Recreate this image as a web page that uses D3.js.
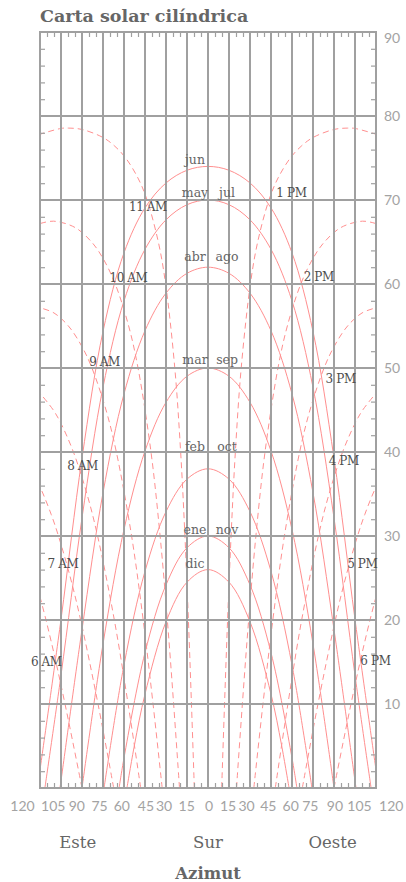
<!DOCTYPE html>
<html>
<head>
<meta charset="utf-8">
<script src="https://cdn.jsdelivr.net/npm/d3@7"></script>
<style>
    body { margin: 0; background: #fff; }
    svg { display: block; }
</style>
</head>
<body>
<svg id="canvas" width="406" height="882"></svg>
<script>
const width = 406
const height = 882

// azimut (grados desde el sur, + oeste) y altura (grados)
const pathJun = [[-120, 2.15], [-105, 20.07], [-90, 39.26], [-75, 54.35], [-60, 63.71], [-45, 69.06], [-30, 72.03], [-15, 73.54], [0, 74], [15, 73.54], [30, 72.03], [45, 69.06], [60, 63.71], [75, 54.35], [90, 39.26], [105, 20.07], [120, 2.15]]
const pathMayJul = [[-116.5, 0], [-105, 13.42], [-90, 32.15], [-75, 47.7], [-60, 57.99], [-45, 64.13], [-30, 67.64], [-15, 69.44], [0, 70], [15, 69.44], [30, 67.64], [45, 64.13], [60, 57.99], [75, 47.7], [90, 32.15], [105, 13.42], [116.5, 0]]
const pathAbrAgo = [[-105.75, 0], [-105, 0.86], [-90, 18.87], [-75, 35.15], [-60, 46.92], [-45, 54.44], [-30, 58.91], [-15, 61.27], [0, 62], [15, 61.27], [30, 58.91], [45, 54.44], [60, 46.92], [75, 35.15], [90, 18.87], [105, 0.86], [105.75, 0]]
const pathMarSep = [[-90, 0], [-75, 17.14], [-60, 30.78], [-45, 40.12], [-30, 45.91], [-15, 49.02], [0, 50], [15, 49.02], [30, 45.91], [45, 40.12], [60, 30.78], [75, 17.14], [90, 0]]
const pathFebOct = [[-74.25, 0], [-60, 14.65], [-45, 25.8], [-30, 32.9], [-15, 36.77], [0, 38], [15, 36.77], [30, 32.9], [45, 25.8], [60, 14.65], [74.25, 0]]
const pathEneNov = [[-63.5, 0], [-60, 3.58], [-45, 16.11], [-30, 24.18], [-15, 28.6], [0, 30], [15, 28.6], [30, 24.18], [45, 16.11], [60, 3.58], [63.5, 0]]
const pathDic = [[-57.9, 0], [-52.5, 5.14], [-45, 11.18], [-30, 19.79], [-15, 24.5], [0, 26], [15, 24.5], [30, 19.79], [45, 11.18], [52.5, 5.14], [57.9, 0]]

const hour6am = [[-90, 0], [-95.99, 5], [-102.13, 10], [-108.62, 15], [-115.71, 20], [-120, 22.76]]
const hour7am = [[-67.37, 0], [-78.55, 10], [-90.97, 20], [-98.23, 25], [-106.8, 30], [-112, 32.57], [-117.74, 35], [-120, 35.84]]
const hour8am = [[-48.07, 0], [-57.07, 10], [-66.9, 20], [-78.86, 30], [-86.45, 35], [-96.14, 40], [-105, 43.39], [-110.52, 45], [-120, 47]]
const hour9am = [[-32.73, 0], [-39.25, 10], [-46.3, 20], [-54.57, 30], [-65.47, 40], [-72.85, 45], [-82.9, 50], [-90, 52.54], [-99.7, 55], [-110, 56.55], [-120, 57.17]]
const hour10am = [[-20.36, 0], [-24.55, 10], [-29.04, 20], [-34.21, 30], [-40.72, 40], [-49.98, 50], [-56.67, 55], [-66.27, 60], [-75, 63.05], [-83.14, 65], [-95, 66.73], [-110.36, 67.48], [-120, 67.19]]
const hour11am = [[-9.77, 0], [-11.81, 10], [-13.99, 20], [-16.48, 30], [-19.54, 40], [-23.72, 50], [-30.28, 60], [-35.48, 65], [-43.53, 70], [-49.68, 72.5], [-58.79, 75], [-67, 76.47], [-75, 77.44], [-90, 78.4], [-99.77, 78.56], [-105, 78.52], [-120, 77.83]]
const hour1pm = [[9.77, 0], [11.81, 10], [13.99, 20], [16.48, 30], [19.54, 40], [23.72, 50], [30.28, 60], [35.48, 65], [43.53, 70], [49.68, 72.5], [58.79, 75], [67, 76.47], [75, 77.44], [90, 78.4], [99.77, 78.56], [105, 78.52], [120, 77.83]]
const hour2pm = [[20.36, 0], [24.55, 10], [29.04, 20], [34.21, 30], [40.72, 40], [49.98, 50], [56.67, 55], [66.27, 60], [75, 63.05], [83.14, 65], [95, 66.73], [110.36, 67.48], [120, 67.19]]
const hour3pm = [[32.73, 0], [39.25, 10], [46.3, 20], [54.57, 30], [65.47, 40], [72.85, 45], [82.9, 50], [90, 52.54], [99.7, 55], [110, 56.55], [120, 57.17]]
const hour4pm = [[48.07, 0], [57.07, 10], [66.9, 20], [78.86, 30], [86.45, 35], [96.14, 40], [105, 43.39], [110.52, 45], [120, 47]]
const hour5pm = [[67.37, 0], [78.55, 10], [90.97, 20], [98.23, 25], [106.8, 30], [112, 32.57], [117.74, 35], [120, 35.84]]
const hour6pm = [[90, 0], [95.99, 5], [102.13, 10], [108.62, 15], [115.71, 20], [120, 22.76]]

const monthPaths = [pathJun, pathMayJul, pathAbrAgo, pathMarSep, pathFebOct, pathEneNov, pathDic]
const hourPaths = [hour6am, hour7am, hour8am, hour9am, hour10am, hour11am, hour1pm, hour2pm, hour3pm, hour4pm, hour5pm, hour6pm]

const monthsLeft = ["jun", "may", "abr", "mar", "feb", "ene", "dic"]
const monthsRight = ["", "jul", "ago", "sep", "oct", "nov", ""]
const monthLabelAlt = [74.85, 70.87, 63.25, 50.95, 40.63, 30.71, 26.67]

const hourLabels = ["6 AM", "7 AM", "8 AM", "9 AM", "10 AM", "11 AM", "1 PM", "2 PM", "3 PM", "4 PM", "5 PM", "6 PM"]
const hourLabelAz = [-115.5, -103.6, -89.6, -73.9, -56.8, -42.9, 59.6, 79.1, 94.8, 97.0, 110.2, 119.6]
const hourLabelAlt = [15.04, 26.75, 38.4, 50.75, 60.7, 69.2, 70.8, 60.8, 48.7, 39.0, 26.75, 15.15]

const azTicks = [-120, -105, -90, -75, -60, -45, -30, -15, 0, 15, 30, 45, 60, 75, 90, 105, 120]
const azTickLabels = ["120", "105", "90", "75", "60", "45", "30", "15", "0", "15", "30", "45", "60", "75", "90", "105", "120"]
const azTickLabelAt = [-132.5, -110.5, -93.7, -77.5, -61.6, -44.3, -31.4, -15.2, 0.7, 14.3, 27.6, 43.1, 59.1, 73.1, 90.7, 108.2, 130.9]
const altTicks = [10, 20, 30, 40, 50, 60, 70, 80, 90]
const directions = ["Este", "Sur", "Oeste"]
const directionAz = [-93, 0, 89]

const plotLeft = 40, plotRight = 376, plotTop = 32, plotBottom = 788
const gridColor = "#a0a0a0"
const curveColor = "#ff8f8f"
const tickColor = "#a3a3a3"
const serif = "'DejaVu Serif', serif"
const sans = "Lato, 'Open Sans', sans-serif"

const x = d3.scaleLinear().domain([-120, 120]).range([plotLeft, plotRight])
const y = d3.scaleLinear().domain([0, 90]).range([plotBottom, plotTop])

const canvas = d3.select("#canvas")

canvas.append("defs").append("clipPath").attr("id", "plot")
    .append("rect")
    .attr("x", plotLeft).attr("y", plotTop)
    .attr("width", plotRight - plotLeft).attr("height", plotBottom - plotTop)

const line = d3.line()
    .x(d => x(d[0]))
    .y(d => y(d[1]))
    .curve(d3.curveCatmullRom.alpha(0.5))

const curves = canvas.append("g").attr("clip-path", "url(#plot)")

curves.selectAll(".hour")
    .data(hourPaths)
    .enter().append("path")
    .attr("class", "hour")
    .attr("d", line)
    .attr("fill", "none")
    .attr("stroke", curveColor)
    .attr("stroke-width", 1)
    .attr("stroke-dasharray", "6,4")

curves.selectAll(".month")
    .data(monthPaths)
    .enter().append("path")
    .attr("class", "month")
    .attr("d", line)
    .attr("fill", "none")
    .attr("stroke", curveColor)
    .attr("stroke-width", 1)

// rejilla
const grid = canvas.append("g")
grid.selectAll(".vgrid")
    .data(azTicks)
    .enter().append("line")
    .attr("class", "vgrid")
    .attr("x1", d => x(d)).attr("x2", d => x(d))
    .attr("y1", plotTop).attr("y2", plotBottom)
    .attr("stroke", gridColor)
    .attr("stroke-width", 2)

grid.selectAll(".hgrid")
    .data([0].concat(altTicks))
    .enter().append("line")
    .attr("class", "hgrid")
    .attr("x1", plotLeft - 1).attr("x2", plotRight + 1)
    .attr("y1", d => y(d)).attr("y2", d => y(d))
    .attr("stroke", gridColor)
    .attr("stroke-width", 2)

// marcas menores
const minorAlt = d3.range(2, 90, 2).filter(d => d % 10 != 0)
const minorAz = d3.range(-115, 120, 5).filter(d => d % 15 != 0)

function minor(g) {
    g.select(".domain").remove()
    g.selectAll("text").remove()
    g.selectAll("line").attr("stroke", gridColor).attr("stroke-width", 1.2)
}

canvas.append("g").attr("transform", `translate(${plotLeft},0)`)
    .call(d3.axisLeft(y).tickValues(minorAlt).tickSize(-5))
    .call(minor)
canvas.append("g").attr("transform", `translate(${plotRight},0)`)
    .call(d3.axisRight(y).tickValues(minorAlt).tickSize(-5))
    .call(minor)
canvas.append("g").attr("transform", `translate(0,${plotTop})`)
    .call(d3.axisTop(x).tickValues(minorAz).tickSize(-5))
    .call(minor)
canvas.append("g").attr("transform", `translate(0,${plotBottom})`)
    .call(d3.axisBottom(x).tickValues(minorAz).tickSize(-5))
    .call(minor)

// eje de altura
const altAxis = canvas.append("g").attr("transform", `translate(${plotRight},0)`)
    .call(d3.axisRight(y).tickValues(altTicks).tickSize(0).tickPadding(8))
altAxis.select(".domain").remove()
altAxis.selectAll("text")
    .attr("font-family", sans)
    .attr("font-weight", 400)
    .attr("font-size", 14)
    .attr("fill", tickColor)
    .attr("dy", d => d == 90 ? "0.75em" : "0.35em")

// etiquetas de azimut
canvas.append("g").selectAll("text")
    .data(azTickLabels)
    .enter().append("text")
    .attr("x", (d, i) => x(azTickLabelAt[i]))
    .attr("y", 810.5)
    .attr("text-anchor", "middle")
    .attr("font-family", sans)
    .attr("font-weight", 400)
    .attr("font-size", 14)
    .attr("fill", tickColor)
    .text(d => d)

canvas.append("g").selectAll("text")
    .data(directions)
    .enter().append("text")
    .attr("x", (d, i) => x(directionAz[i]))
    .attr("y", 848)
    .attr("text-anchor", "middle")
    .attr("font-family", serif)
    .attr("font-size", 16.5)
    .attr("fill", "#666")
    .text(d => d)

canvas.append("text")
    .attr("x", x(0))
    .attr("y", 879)
    .attr("text-anchor", "middle")
    .attr("font-family", serif)
    .attr("font-weight", "bold")
    .attr("font-size", 16.5)
    .attr("fill", "#666")
    .text("Azimut")

// titulo
canvas.append("text")
    .attr("x", plotLeft)
    .attr("y", 22)
    .attr("font-family", serif)
    .attr("font-weight", "bold")
    .attr("font-size", 17.5)
    .attr("fill", "#666")
    .text("Carta solar cilíndrica")

// etiquetas de meses
const labels = canvas.append("g")
labels.selectAll(".ml")
    .data(monthsLeft)
    .enter().append("text")
    .attr("class", "ml")
    .attr("x", x(-9.3))
    .attr("y", (d, i) => y(monthLabelAlt[i]))
    .attr("dy", "0.35em")
    .attr("text-anchor", "middle")
    .attr("font-family", serif)
    .attr("font-size", 12.5)
    .attr("fill", "#666")
    .text(d => d)

labels.selectAll(".mr")
    .data(monthsRight)
    .enter().append("text")
    .attr("class", "mr")
    .attr("x", x(13.6))
    .attr("y", (d, i) => y(monthLabelAlt[i]))
    .attr("dy", "0.35em")
    .attr("text-anchor", "middle")
    .attr("font-family", serif)
    .attr("font-size", 12.5)
    .attr("fill", "#666")
    .text(d => d)

// etiquetas de horas
labels.selectAll(".hl")
    .data(hourLabels)
    .enter().append("text")
    .attr("class", "hl")
    .attr("x", (d, i) => x(hourLabelAz[i]))
    .attr("y", (d, i) => y(hourLabelAlt[i]))
    .attr("dy", "0.35em")
    .attr("text-anchor", "middle")
    .attr("font-family", serif)
    .attr("font-size", 12)
    .attr("letter-spacing", -0.4)
    .attr("fill", "#4d4d4d")
    .text(d => d)
</script>
</body>
</html>
